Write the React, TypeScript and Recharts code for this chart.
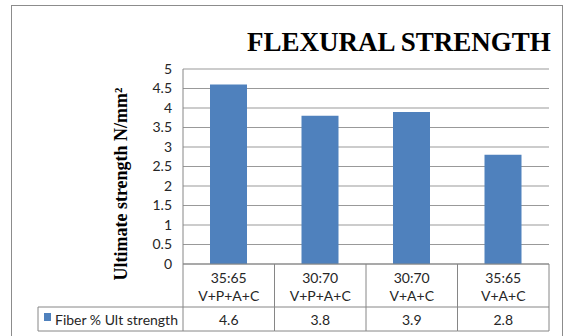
import React from 'react';
import { Bar, BarChart, CartesianGrid, XAxis, YAxis } from 'recharts';

const ratios = ['35:65', '30:70', '30:70', '35:65'];
const mixes = ['V+P+A+C', 'V+P+A+C', 'V+A+C', 'V+A+C'];
const strengths = [4.6, 3.8, 3.9, 2.8];
const yTicks = [0, 0.5, 1, 1.5, 2, 2.5, 3, 3.5, 4, 4.5, 5];
const seriesName = 'Fiber % Ult strength';

const data = ratios.map((r, i) => ({ cat: `${r} ${mixes[i]}`, ratio: r, mix: mixes[i], value: strengths[i] }));

const W = 566;
const H = 336;
const Y_AXIS_W = 183;
const RIGHT = 17;
const BAND = (W - Y_AXIS_W - RIGHT) / ratios.length;
const LEGEND_LEFT = 38;
const LINE = '#868686';
const FONT = 'Lato, "Open Sans", sans-serif';
const BLUE = '#4F81BD';

// category labels + data table drawn under the plot, one column per tick
const TableTick = (props: any) => {
    const { x, y, payload } = props;
    const i = payload.index;
    const left = x - BAND / 2;
    const right = x + BAND / 2;
    const rowY = y + 43;
    const botY = y + 67;
    return (
        <g>
            {i === 0 && <line x1={left} y1={y} x2={left} y2={botY} stroke={LINE} />}
            <line x1={right} y1={y} x2={right} y2={botY} stroke={LINE} />
            <line x1={i === 0 ? LEGEND_LEFT : left} y1={rowY} x2={right} y2={rowY} stroke={LINE} />
            <line x1={i === 0 ? LEGEND_LEFT : left} y1={botY} x2={right} y2={botY} stroke={LINE} />
            <text x={x} y={y + 13} textAnchor="middle" dominantBaseline="central" fontSize={14} fontFamily={FONT} fill="#262626">
                {data[i].ratio}
            </text>
            <text x={x} y={y + 31} textAnchor="middle" dominantBaseline="central" fontSize={14} fontFamily={FONT} fill="#262626">
                {data[i].mix}
            </text>
            <text x={x} y={y + 55} textAnchor="middle" dominantBaseline="central" fontSize={14} fontFamily={FONT} fill="#262626">
                {data[i].value}
            </text>
            {i === 0 && (
                <g>
                    <line x1={LEGEND_LEFT} y1={rowY} x2={LEGEND_LEFT} y2={botY} stroke={LINE} />
                    <rect x={LEGEND_LEFT + 6} y={rowY + 6} width={7} height={8} fill={BLUE} />
                    <text x={LEGEND_LEFT + 17} y={y + 55} dominantBaseline="central" fontSize={14} fontFamily={FONT} fill="#262626">
                        {seriesName}
                    </text>
                </g>
            )}
        </g>
    );
};

const App: React.FC = () => {
    return (
        <div style={{ position: 'absolute', left: 0, top: 0, width: W, height: H, background: '#fff', overflow: 'hidden' }}>
            <div style={{ position: 'absolute', left: 11, top: 5, width: 550, height: 360, border: '1px solid #8c8c8c' }} />
            <div
                style={{
                    position: 'absolute',
                    left: 247,
                    top: 26,
                    fontFamily: '"Liberation Serif", "Times New Roman", serif',
                    fontWeight: 'bold',
                    fontSize: 27,
                    lineHeight: '32px',
                    whiteSpace: 'nowrap',
                    color: '#000'
                }}
            >
                FLEXURAL STRENGTH
            </div>
            <div
                style={{
                    position: 'absolute',
                    left: 121,
                    top: 184,
                    transform: 'translate(-50%, -50%) rotate(-90deg)',
                    fontFamily: '"Liberation Serif", "Times New Roman", serif',
                    fontWeight: 'bold',
                    fontSize: 18,
                    whiteSpace: 'nowrap',
                    color: '#000'
                }}
            >
                Ultimate strength N/mm²
            </div>
            <div style={{ position: 'absolute', left: 0, top: 0 }}>
                <BarChart width={W} height={H} data={data} margin={{ top: 69, right: RIGHT, left: 0, bottom: 0 }}>
                    <CartesianGrid vertical={false} stroke="#999999" />
                    <XAxis
                        dataKey="cat"
                        height={72}
                        axisLine={{ stroke: LINE }}
                        tickLine={false}
                        tickSize={0}
                        tickMargin={0}
                        interval={0}
                        tick={<TableTick />}
                    />
                    <YAxis
                        width={Y_AXIS_W}
                        domain={[0, 5]}
                        ticks={yTicks}
                        interval={0}
                        axisLine={{ stroke: LINE }}
                        tickLine={false}
                        tickSize={0}
                        tickMargin={11}
                        tick={{ fill: '#262626', fontSize: 14, fontFamily: FONT }}
                    />
                    <Bar dataKey="value" name={seriesName} fill={BLUE} barSize={37} isAnimationActive={false} />
                </BarChart>
            </div>
        </div>
    );
};

export default App;
